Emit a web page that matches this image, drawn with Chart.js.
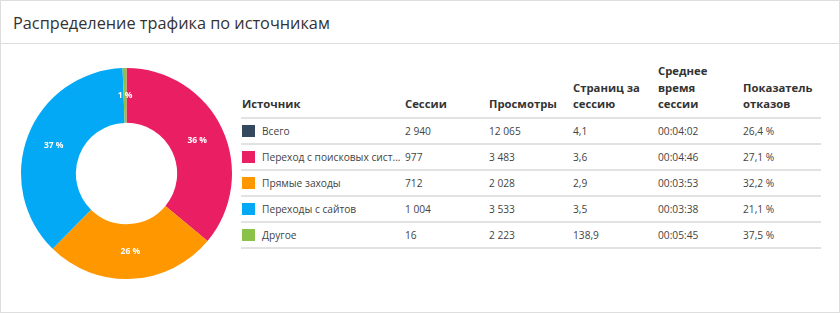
<!DOCTYPE html>
<html lang="ru">
<head>
    <meta charset="UTF-8">
    <title>Распределение трафика по источникам</title>
    <script src="https://cdn.jsdelivr.net/npm/chart.js"></script>
    <style>
        html, body { margin: 0; padding: 0; background: #fff; }
        body { font-family: "Open Sans", sans-serif; color: #333; }
        .card { position: absolute; left: 0; top: 0; width: 838px; height: 311px; border: 1px solid #ddd; }
        .card h2 { margin: 0; height: 42px; border-bottom: 1px solid #ddd; font-weight: normal;
                   font-size: 16.3px; line-height: 44px; padding-left: 12px; color: #333; }
        .chart-box { position: absolute; left: 17px; top: 64px; width: 217px; height: 217px; }
        table { position: absolute; left: 240px; top: 62px; width: 580px; border-collapse: collapse;
                table-layout: fixed; font-size: 10.2px; }
        th { font-weight: bold; font-size: 11.3px; text-align: left; vertical-align: bottom; line-height: 16.5px;
             padding: 0 0 4px 1px; border-bottom: 2px solid #e2e2e2; color: #333; }
        td { height: 24px; padding: 0 0 0 1px; border-bottom: 2px solid #e2e2e2; color: #444;
             white-space: nowrap; overflow: visible; }
        .sw { display: inline-block; width: 13px; height: 12px; vertical-align: -2px; margin-right: 7px; }
    </style>
</head>
<body>
<div class="card">
    <h2>Распределение трафика по источникам</h2>
    <div class="chart-box"><canvas id="donut"></canvas></div>
    <table>
        <colgroup id="cols"></colgroup>
        <thead><tr id="head"></tr></thead>
        <tbody id="rows"></tbody>
    </table>
</div>
<script>
    const columns = ['Источник', 'Сессии', 'Просмотры', 'Страниц за<br>сессию', 'Среднее<br>время<br>сессии', 'Показатель<br>отказов'];
    const colWidths = [163, 84, 84, 85, 85, 79];
    const sources = ['Всего', 'Переход с поисковых сист...', 'Прямые заходы', 'Переходы с сайтов', 'Другое'];
    const colors = ['#34495e', '#e91e63', '#ff9800', '#03a9f4', '#8bc34a'];
    const sessions = [2940, 977, 712, 1004, 16];
    const views = [12065, 3483, 2028, 3533, 2223];
    const pagesPerSession = ['4,1', '3,6', '2,9', '3,5', '138,9'];
    const avgTime = ['00:04:02', '00:04:46', '00:03:53', '00:03:38', '00:05:45'];
    const bounceRate = ['26,4 %', '27,1 %', '32,2 %', '21,1 %', '37,5 %'];

    const fmt = n => String(n).replace(/\B(?=(\d{3})+(?!\d))/g, '\u00a0');

    const cols = document.getElementById('cols');
    const head = document.getElementById('head');
    columns.forEach((c, i) => {
        const col = document.createElement('col');
        col.style.width = colWidths[i] + 'px';
        cols.appendChild(col);
        const th = document.createElement('th');
        th.innerHTML = c;
        head.appendChild(th);
    });
    const rows = document.getElementById('rows');
    sources.forEach((s, i) => {
        const tr = document.createElement('tr');
        tr.innerHTML = `
            <td><span class="sw" style="background:${colors[i]}"></span>${s}</td>
            <td>${fmt(sessions[i])}</td>
            <td>${fmt(views[i])}</td>
            <td>${pagesPerSession[i]}</td>
            <td>${avgTime[i]}</td>
            <td>${bounceRate[i]}</td>`;
        rows.appendChild(tr);
    });

    // подписи процентов внутри сегментов
    const sliceLabels = {
        id: 'sliceLabels',
        afterDatasetsDraw(chart) {
            const ctx = chart.ctx;
            const data = chart.data.datasets[0].data;
            const total = data.reduce((a, b) => a + b, 0);
            ctx.save();
            ctx.fillStyle = '#fff';
            ctx.font = 'bold 8.5px "Open Sans", sans-serif';
            ctx.textAlign = 'center';
            ctx.textBaseline = 'middle';
            chart.getDatasetMeta(0).data.forEach((arc, i) => {
                const p = arc.tooltipPosition();
                ctx.fillText(Math.round(data[i] / total * 100) + ' %', p.x, p.y);
            });
            ctx.restore();
        }
    };

    new Chart(document.getElementById('donut'), {
        type: 'doughnut',
        data: {
            labels: sources.slice(1),
            datasets: [{
                data: sessions.slice(1),
                backgroundColor: colors.slice(1),
                borderWidth: 0
            }]
        },
        options: {
            responsive: true,
            maintainAspectRatio: false,
            animation: false,
            cutout: '48%',
            layout: { padding: 3 },
            plugins: { legend: { display: false }, tooltip: { enabled: false } }
        },
        plugins: [sliceLabels]
    });
</script>
</body>
</html>
